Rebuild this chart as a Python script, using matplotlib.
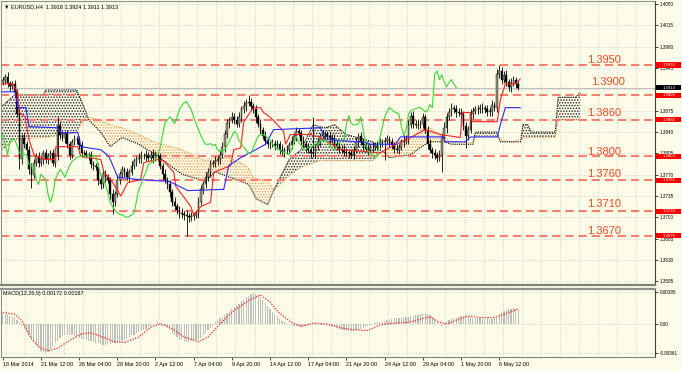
import numpy as np
import matplotlib.pyplot as plt
import matplotlib.transforms as mtransforms
from matplotlib.patches import Rectangle

plt.rcParams['font.family'] = ['Liberation Sans', 'DejaVu Sans']
plt.rcParams['hatch.linewidth'] = 0.7

BG = '#FDFCE8'

# EURUSD H4, prices in pips above 1.3000, bar 0 = first bar on the chart
first_open = 922
close = [925, 930, 920, 915, 918, 905, 870, 795, 830, 820, 810, 780, 770, 790, 800, 790, 795, 805, 795, 800,
         805, 790, 800, 850, 835, 830,
         836, 820, 803, 824, 828, 828, 818, 806, 805, 803, 802, 787, 785, 782, 762, 754, 771, 766, 762, 738,
         725, 738, 762, 771, 779,
         774, 766, 775, 785, 792, 795, 798, 800, 800, 802, 798, 803, 798, 802, 800, 785, 771, 762, 754, 741,
         725, 718, 712, 708, 705,
         704, 702, 700, 702, 704, 707, 726, 746, 754, 766, 775, 787, 789, 792, 795, 803, 815, 836, 855, 860,
         865, 860, 854, 864, 877,
         883, 888, 890, 883, 877, 864, 854, 844, 834, 826, 820, 820, 821, 818, 820, 811, 808, 810, 811, 818,
         826, 833, 841, 838, 826,
         821, 815, 810, 805, 805, 815, 824, 833, 836, 836, 834, 831, 828, 821, 815, 813, 811, 808, 806, 805,
         803, 811, 823, 833, 824,
         818, 813, 811, 815, 816, 818, 820, 823, 824, 826, 828, 823, 818, 813, 811, 816, 823, 826, 828, 852,
         867, 854, 852, 852, 854,
         865, 844, 820, 810, 805, 802, 798, 802, 831, 847, 864, 873, 880, 877, 873, 872, 869, 850, 834, 844,
         869, 875, 877, 878, 880,
         880, 877, 873, 875, 885, 880, 935, 940, 926, 934, 922, 914, 921, 926, 919, 913]
wick_up = [6, 5, 8, 4, 6, 7, 5, 10, 6, 8, 5, 7, 9, 6, 5, 8, 4, 6, 7, 5,
           6, 8, 5, 15, 6, 7, 5, 8, 6, 4, 7, 5, 6, 8, 4, 6, 5, 7, 6, 5,
           8, 6, 5, 7, 6, 5, 8, 6, 7, 5, 6, 4, 7, 5, 8, 6, 5, 7, 9, 6,
           8, 5, 6, 10, 7, 5, 6, 4, 8, 5, 7, 6, 9, 5, 6, 7, 5, 8, 6, 7,
           5, 6, 8, 7, 5, 9, 6, 7, 5, 8, 6, 7, 9, 8, 6, 5, 8, 6, 7, 9,
           6, 8, 7, 10, 6, 5, 7, 6, 8, 5, 7, 6, 5, 8, 6, 7, 5, 9, 6, 7,
           5, 8, 6, 7, 5, 6, 8, 5, 7, 6, 60, 5, 7, 6, 8, 5, 6, 7, 5, 8,
           6, 7, 5, 8, 6, 5, 7, 6, 9, 5, 7, 6, 5, 8, 6, 7, 5, 6, 8, 5,
           6, 7, 5, 8, 6, 7, 5, 6, 9, 7, 8, 6, 7, 5, 9, 6, 7, 5, 6, 8,
           5, 7, 6, 8, 6, 9, 7, 6, 8, 5, 7, 6, 8, 5, 7, 6, 8, 6, 5, 7,
           6, 8, 5, 7, 6, 8, 5, 8, 10, 7, 6, 8, 5, 7, 6, 5, 4]
wick_dn = [5, 7, 6, 8, 5, 6, 5, 15, 7, 6, 8, 9, 21, 6, 5, 7, 6, 8, 5, 7,
           6, 5, 8, 6, 7, 5, 8, 6, 7, 5, 6, 8, 5, 7, 6, 5, 8, 6, 7, 5,
           9, 7, 6, 8, 5, 7, 20, 6, 5, 8, 6, 7, 5, 8, 6, 5, 7, 6, 8, 5,
           7, 6, 5, 8, 6, 7, 5, 8, 6, 7, 8, 6, 5, 7, 9, 6, 8, 33, 7, 6,
           7, 5, 8, 6, 7, 5, 6, 8, 5, 7, 6, 8, 5, 7, 6, 8, 5, 7, 6, 5,
           7, 6, 8, 5, 7, 6, 8, 5, 7, 6, 8, 6, 7, 5, 8, 6, 7, 5, 9, 6,
           7, 5, 6, 8, 5, 7, 6, 8, 5, 7, 6, 8, 5, 7, 6, 8, 5, 9, 6, 7,
           5, 8, 6, 7, 5, 8, 6, 7, 5, 8, 6, 7, 5, 8, 6, 7, 5, 8, 6, 7,
           30, 6, 7, 5, 8, 6, 7, 5, 8, 6, 7, 5, 8, 6, 7, 5, 8, 6, 7, 5,
           8, 6, 7, 5, 27, 6, 8, 5, 7, 6, 8, 5, 7, 6, 20, 7, 6, 8, 5, 7,
           6, 8, 5, 7, 6, 8, 5, 7, 6, 8, 5, 7, 6, 8, 5, 6, 4]

# Ichimoku lines (bar, pips)
tenkan_bar = [-1, 4.3, 6, 6.8, 9.3, 11, 13.1, 17.3, 21.5, 22.3, 31.5, 32.7, 41.1, 42.4, 45.3, 49.5, 52.4, 57.8,
              59.1, 65, 67.5, 71.7, 72.5, 78.8, 80, 83, 87.1, 88.4, 95.5, 96.8, 99.7, 101, 105, 108, 109.3, 112.2,
              117.7, 118.5, 120.6, 129, 133.2, 141.5, 158.3, 162.4, 170.8, 177.1, 183.4, 191.7, 192.6, 196, 196.8,
              207.2, 208.5, 210.6, 214.7, 216.8]
tenkan = [919, 919, 906, 873, 865, 828, 803, 795, 795, 816, 816, 800, 795, 774, 762, 735, 757, 762,
          790, 795, 792, 774, 751, 718, 704, 718, 725, 774, 785, 811, 814, 857, 880, 880, 872, 864,
          841, 820, 836, 836, 831, 811, 806, 815, 831, 844, 836, 831, 872, 872, 857,
          857, 893, 919, 919, 927]
kijun_bar = [-1, 5.1, 6.4, 9.7, 11, 23.1, 24.4, 31.5, 32.7, 41.1, 44.5, 48.2, 57, 69.6, 72.5, 77.5, 92.6, 94.7,
             99.7, 106, 110.1, 113.5, 133.2, 135.2, 152, 154, 164.6, 166.6, 184.6, 185.4, 193.8, 196, 207.2,
             208.5, 210.6, 216.8]
kijun = [906, 906, 880, 880, 849, 847, 839, 839, 816, 811, 800, 766, 762, 759, 754, 744, 746, 785,
         798, 811, 820, 844, 847, 828, 823, 820, 820, 832, 832, 824, 824, 832, 832,
         852, 880, 880]
cloud_bar = [-1, 5, 17, 18, 31, 35, 36, 40, 41, 45, 50, 57, 64, 75, 85, 89, 95, 102, 103, 105,
             106, 111, 113.5, 120, 125, 130, 133, 135, 139, 144, 155, 158, 160, 162, 171, 175, 179, 185, 188, 197,
             198, 207, 208.5, 213, 217, 218, 220, 221.5, 231.5, 232.7, 240, 242]
span_a = [808, 828, 831, 831, 839, 865, 864, 861, 860, 852, 847, 836, 823, 811, 793, 798, 798, 785, 780, 765,
          764, 761, 744, 769, 782, 789, 793, 793, 793, 793, 793, 803, 812, 824, 828, 844, 847, 831, 823, 823,
          833, 833, 828, 823, 828, 830, 831, 831, 831, 860, 860, 860]
span_b = [880, 901, 901, 909, 909, 872, 860, 844, 840, 816, 831, 820, 803, 771, 759, 775, 766, 756, 754, 740,
          731, 721, 744, 795, 811, 852, 849, 847, 852, 836, 824, 811, 806, 798, 803, 815, 824, 824, 820, 820,
          840, 840, 824, 824, 824, 852, 852, 840, 840, 897, 897, 905]

# MACD(12,26,9), units of 0.0001
macd_hist = [13, 12, 11, 10, 9, 8, 5, 2, -2, -6, -10, -14, -18, -22, -26, -30, -33, -35, -36,
             -34, -31, -28, -24, -21, -17, -15, -14, -13, -13, -14, -15, -16, -17, -18, -19, -20, -21, -21, -22,
             -23, -24, -25, -26, -26, -25, -25, -24, -24, -23, -22, -21, -20, -18, -16, -14, -13, -11, -10, -9, -8,
             -6, -4, -3, -1, 0, 2, 1, -1, -3, -5, -8, -11, -14, -16, -18, -20, -21, -22, -22, -21, -20, -20, -19, -17,
             -14, -11, -8, -5, -2, 2, 5, 7, 9, 11, 13, 16, 19, 21, 23, 25, 28, 30, 33, 35, 37, 38,
             37, 35, 33, 30, 26, 22, 18, 15, 12, 9, 6, 4, 2, 1, 0, -1, -2, -3, -3, -4,
             -3, -2, -1, 0, 1, 1, 0, -1, -1, 0, -1, -2, -3, -4, -5, -6, -7, -8, -9, -9, -10, -9, -8, -7, -6, -5, -4, -3,
             -1, 0, 1, 2, 3, 3, 4, 5, 5, 6, 7, 7, 8, 8, 9, 9, 9, 10, 10, 11, 11, 12, 13, 13, 12, 11, 9,
             6, 3, 0, -2, 1, 3, 5, 6, 7, 8, 9, 10, 10, 11, 10, 9, 8, 8, 7, 7, 6, 6, 7, 6, 6, 7, 8,
             12, 14, 16, 17, 18, 19, 20, 19, 17]
signal_bar = [-1, 5, 8, 12, 15, 19, 23, 27, 33, 37, 41, 47, 51, 57, 62, 66, 70, 76, 82, 86,
              91, 97, 103, 108, 112, 116, 121, 125, 130, 136, 142, 147, 153, 158, 164, 170, 175, 179, 183, 186,
              192, 195, 200, 206, 211, 216]
signal = [15, 12, 4, -18, -28, -33, -30, -22, -12, -11, -15, -22, -23, -16, -4, 0, -4, -16, -22, -16,
          0, 17, 29, 36, 27, 13, 2, -3, 1, 0, -5, -7, -8, -1, 1, 2, 6, 9, 2, 0,
          7, 10, 8, 8, 13, 19]

# horizontal levels
levels = [1.3950, 1.3900, 1.3860, 1.3800, 1.3761, 1.3710, 1.3670]
level_text = ['1.3950', '1.3900', '1.3860', '1.3800', '1.3760', '1.3710', '1.3670']
level_tag = ['1.3950', '1.3900', '1.3860', '1.3800', '1.3761', '1.3710', '1.3670']
level_text_y = [1.39536, 1.39176, 1.38670, 1.38030, 1.37670, 1.37166, 1.36725]
level_text_x = [244.9, 246.6, 244.9, 244.9, 244.9, 244.9, 244.9]
last_price = 1.3913

price_ticks = [1.4050, 1.4015, 1.3980, 1.3945, 1.3910, 1.3875, 1.3840, 1.3805, 1.3770,
               1.3735, 1.3700, 1.3665, 1.3630, 1.3595]
# 1.3910 sits under the current-price tag, so its label is not shown
price_tick_labels = ['1.4050', '1.4015', '1.3980', '1.3945', '', '1.3875', '1.3840', '1.3805', '1.3770',
                     '1.3735', '1.3700', '1.3665', '1.3630', '1.3595']
macd_ticks = [0.00395, 0.0, -0.00361]
macd_tick_labels = ['0.00395', '0.00', '-0.00361']

date_bars = [0, 16, 32, 48, 64, 80, 96, 112, 128, 144, 160, 176, 192, 208]
date_labels = ['18 Mar 2014', '21 Mar 12:00', '26 Mar 04:00', '28 Mar 20:00', '2 Apr 12:00',
               '7 Apr 04:00', '9 Apr 20:00', '14 Apr 12:00', '17 Apr 04:00', '21 Apr 20:00',
               '24 Apr 12:00', '29 Apr 04:00', '1 May 20:00', '6 May 12:00']

# ---------------------------------------------------------------
c = 1.3 + np.array(close) / 1e4
o = np.r_[1.3 + first_open / 1e4, c[:-1]]
hi = np.maximum(o, c) + np.array(wick_up) / 1e4
lo = np.minimum(o, c) - np.array(wick_dn) / 1e4
x = np.arange(len(c))

fig = plt.figure(figsize=(6.82, 3.71), dpi=100, facecolor=BG)
ax = fig.add_axes([1 / 682, 86 / 371, 654 / 682, 284 / 371], facecolor=BG)
ax2 = fig.add_axes([1 / 682, 14 / 371, 654 / 682, 68 / 371], facecolor=BG, sharex=ax)

ax.set_xlim(-0.73, 273.3)
ax.set_ylim(1.35892, 1.40549)
ax2.set_ylim(-0.00407, 0.00432)

grid_kw = dict(color='#C4C4C4', lw=0.6, ls=(0, (1, 2)), zorder=0)
for gx in np.arange(1.5, 274, 8):
    ax.axvline(gx, **grid_kw)
    ax2.axvline(gx, **grid_kw)
for gy in price_ticks:
    ax.axhline(gy, **grid_kw)
for gy in macd_ticks:
    ax2.axhline(gy, **grid_kw)

# cloud
cb = np.array(cloud_bar)
sa = 1.3 + np.array(span_a) / 1e4
sb = 1.3 + np.array(span_b) / 1e4
ax.fill_between(cb, sa, sb, where=sa >= sb, interpolate=True, facecolor='none',
                edgecolor='#F0A050', hatch='......', linewidth=0, zorder=1)
ax.fill_between(cb, sa, sb, where=sb > sa, interpolate=True, facecolor='none',
                edgecolor='#202020', hatch='......', linewidth=0, zorder=1)
ax.plot(cb, sa, color='#F0A050', ls=(0, (1, 1)), lw=0.8, zorder=1)
ax.plot(cb, sb, color='black', ls=(0, (1, 1)), lw=0.8, zorder=1)

# levels
for lv in levels:
    ax.axhline(lv, color='#F77F70', lw=1.5, ls=(0, (4, 2.3)), zorder=2)
ax.axhline(last_price, color='#C0C0C0', lw=0.8, zorder=2)

# candles
up = c >= o
ax.vlines(x, lo, hi, color='black', lw=0.6, zorder=3)
ax.bar(x[up], (c - o)[up], bottom=o[up], width=0.7, color='#9C9C80',
       edgecolor='black', linewidth=0.3, zorder=4)
ax.bar(x[~up], (c - o)[~up], bottom=o[~up], width=0.7, color='black',
       edgecolor='black', linewidth=0.3, zorder=4)

# ichimoku lines
ax.plot(tenkan_bar, 1.3 + np.array(tenkan) / 1e4, color='#FF2020', lw=0.8, zorder=5)
ax.plot(kijun_bar, 1.3 + np.array(kijun) / 1e4, color='#2828FF', lw=0.8, zorder=5)
ax.plot(x - 26, c, color='#33DD33', lw=0.8, zorder=5)

# level captions
for tx, ty, t in zip(level_text_x, level_text_y, level_text):
    ax.text(tx, ty, t, color='#FF4522', fontsize=8, va='baseline', ha='left', zorder=6)

# right axis tags
trans = mtransforms.blended_transform_factory(ax.transAxes, ax.transData)
for lv, t in zip(levels, level_tag):
    ax.add_patch(Rectangle((1.002, lv - 0.00042), 0.038, 0.00084, transform=trans,
                           clip_on=False, fc='#FF0000', ec='none', zorder=7))
    ax.text(1.021, lv, t, transform=trans, color='white', fontsize=3.1,
            ha='center', va='center', zorder=8, clip_on=False)
ax.add_patch(Rectangle((1.002, last_price - 0.00042), 0.038, 0.00084, transform=trans,
                       clip_on=False, fc='black', ec='none', zorder=7))
ax.text(1.021, last_price, '%.4f' % last_price, transform=trans, color='white', fontsize=3.1,
        ha='center', va='center', zorder=8, clip_on=False)

ax.yaxis.tick_right()
ax.set_yticks(price_ticks)
ax.set_yticklabels(price_tick_labels)
ax.tick_params(axis='y', length=2, width=0.5, pad=1.5, labelsize=3.3)
ax.tick_params(axis='x', length=0, labelbottom=False)

# MACD
ax2.bar(x, np.array(macd_hist) / 1e4, width=0.5, color='#BDBDBD', zorder=2)
ax2.plot(signal_bar, np.array(signal) / 1e4, color='#FF2020', lw=0.9, ls=(0, (1, 1.2)), zorder=3)
ax2.yaxis.tick_right()
ax2.set_yticks(macd_ticks)
ax2.set_yticklabels(macd_tick_labels)
ax2.tick_params(axis='y', length=2, width=0.5, pad=1.5, labelsize=3.3)
ax2.set_xticks(date_bars)
ax2.set_xticklabels(date_labels)
for lab in ax2.get_xticklabels():
    lab.set_ha('left')
ax2.tick_params(axis='x', length=2, width=0.5, pad=1.5, labelsize=3.9)

for a in (ax, ax2):
    for s in ('left', 'top'):
        a.spines[s].set_color('#909090')
        a.spines[s].set_linewidth(0.8)
    a.spines['right'].set_color('#404040')
    a.spines['right'].set_linewidth(0.8)
    a.spines['bottom'].set_color('#808080')
ax.spines['bottom'].set_linewidth(1.6)
ax2.spines['top'].set_linewidth(1.6)
ax2.spines['bottom'].set_linewidth(0.8)

fig.text(4 / 682, 1 - 7 / 371, '\u25bc EURUSD,H4  1.3918 1.3924 1.3911 1.3913',
         fontsize=4, va='center', ha='left')
fig.text(3 / 682, 1 - 293 / 371, 'MACD(12,26,9) 0.00172 0.00187',
         fontsize=3.9, va='center', ha='left')

fig.savefig('out.png', dpi=100, facecolor=BG)
